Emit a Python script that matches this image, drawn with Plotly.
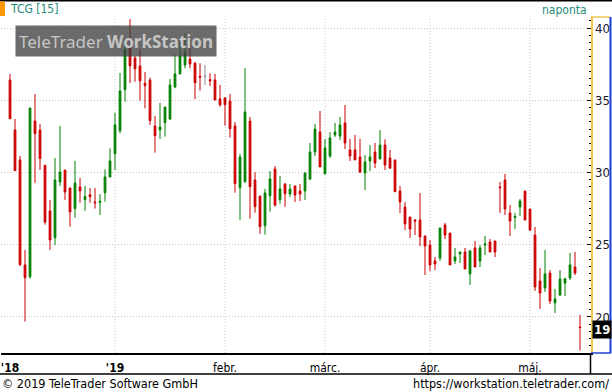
import plotly.graph_objects as go

# ---------------- data ----------------
open_ = [36.40, 32.94, 30.87, 23.60, 22.79, 33.56, 32.94, 30.50, 27.34, 25.49,
         29.34, 30.17, 28.93, 27.50, 29.00, 28.12, 28.46, 27.96, 27.93, 28.60,
         29.69, 31.30, 32.89, 35.73, 38.82, 37.92, 37.37, 36.17, 36.40, 33.22,
         32.94, 33.45, 33.70, 35.92, 36.82, 37.44, 37.85, 37.56, 36.66, 36.68,
         36.42, 36.40, 35.09, 35.16, 34.95, 33.22, 28.95, 29.36, 33.56, 29.48,
         28.37, 26.32, 28.39, 30.24, 28.12, 29.20, 28.51, 29.07, 28.72, 28.72,
         29.55, 31.42, 32.80, 29.90, 31.14, 32.60, 32.53, 33.43, 31.56, 31.56,
         31.07, 29.97, 30.80, 31.42, 30.93, 31.90, 31.00, 30.87, 28.72, 27.61,
         26.92, 26.71, 26.71, 25.61, 24.98, 23.88, 24.08, 26.37, 25.81, 23.88,
         24.36, 24.50, 22.98, 24.78, 23.88, 24.98, 25.19, 25.26, 29.00, 29.48,
         27.20, 26.88, 27.61, 28.72, 27.47, 25.67, 22.49, 22.01, 23.04, 20.97,
         21.52, 22.35, 22.70, 23.46, 19.31]
high_ = [36.82, 33.70, 31.14, 24.64, 34.46, 35.43, 33.36, 30.50, 28.10, 31.00,
         33.22, 30.17, 28.93, 30.80, 29.62, 29.07, 28.93, 28.93, 28.51, 30.22,
         31.67, 34.12, 36.89, 39.24, 40.62, 38.06, 38.55, 36.96, 36.56, 33.91,
         34.81, 34.53, 36.47, 38.13, 39.05, 39.63, 39.17, 37.65, 37.56, 37.44,
         36.87, 36.82, 36.06, 35.20, 35.43, 33.49, 31.28, 37.23, 33.84, 30.03,
         28.37, 28.86, 30.10, 30.45, 29.76, 29.27, 29.20, 29.07, 29.20, 29.97,
         32.04, 33.36, 34.26, 32.32, 32.80, 33.43, 33.84, 34.67, 32.32, 32.60,
         32.32, 31.21, 31.90, 32.04, 32.94, 32.30, 31.56, 30.87, 29.07, 27.96,
         26.92, 26.78, 28.58, 25.61, 25.33, 24.15, 26.16, 26.51, 25.81, 24.78,
         24.50, 24.78, 24.64, 25.26, 24.98, 25.61, 25.40, 25.26, 29.35, 29.90,
         27.75, 27.20, 28.17, 28.72, 27.47, 26.23, 23.39, 24.64, 23.25, 21.94,
         23.25, 22.71, 24.43, 24.50, 20.15]
low_ = [33.72, 30.13, 23.53, 19.68, 22.65, 29.29, 30.17, 26.39, 24.64, 24.98,
        29.07, 28.10, 26.25, 26.87, 27.91, 27.36, 27.91, 27.50, 27.06, 27.98,
        29.69, 30.17, 32.71, 34.90, 36.19, 36.28, 34.97, 34.44, 33.29, 31.37,
        32.32, 32.48, 33.63, 35.83, 36.82, 37.21, 37.21, 35.07, 35.66, 36.06,
        35.99, 35.02, 34.55, 33.24, 32.41, 28.60, 26.73, 29.29, 26.80, 27.22,
        25.76, 25.70, 27.29, 27.63, 27.84, 27.63, 28.30, 27.96, 28.03, 28.10,
        29.48, 31.14, 30.38, 29.90, 31.00, 32.46, 32.25, 31.63, 30.80, 30.87,
        29.97, 28.79, 30.10, 30.31, 30.93, 30.17, 30.24, 28.67, 27.20, 26.02,
        25.47, 25.67, 24.91, 22.91, 23.18, 23.25, 23.88, 25.40, 23.60, 23.67,
        23.74, 23.32, 22.21, 23.46, 23.46, 24.29, 24.50, 24.15, 27.20, 27.06,
        25.61, 26.09, 26.99, 26.71, 25.95, 21.80, 20.55, 21.73, 20.90, 20.28,
        21.45, 21.45, 22.57, 22.91, 17.67]
close_ = [33.72, 30.13, 23.62, 22.72, 34.46, 32.69, 30.96, 26.57, 25.33, 29.48,
          30.03, 28.65, 27.27, 29.27, 28.72, 28.33, 28.33, 27.90, 28.00, 29.69,
          30.80, 33.29, 35.64, 38.48, 37.39, 37.18, 36.35, 36.01, 33.59, 32.55,
          33.15, 34.53, 36.06, 36.82, 38.06, 38.27, 37.51, 36.21, 36.60, 36.68,
          36.35, 35.02, 34.69, 34.69, 33.03, 29.23, 31.07, 34.19, 29.02, 27.63,
          26.25, 28.58, 29.55, 27.75, 28.86, 28.53, 28.86, 28.44, 28.51, 29.97,
          31.42, 33.01, 30.38, 31.70, 32.39, 32.80, 33.29, 32.04, 31.14, 30.87,
          30.03, 30.73, 31.07, 30.66, 31.90, 30.52, 30.31, 28.67, 27.96, 26.44,
          26.09, 26.64, 25.54, 24.91, 23.60, 23.67, 26.16, 25.67, 23.60, 24.15,
          24.50, 23.32, 24.57, 23.46, 24.78, 25.05, 24.50, 24.50, 28.95, 27.47,
          26.64, 26.95, 28.03, 26.71, 26.02, 22.08, 21.66, 22.98, 21.11, 21.25,
          22.63, 22.64, 23.60, 23.04, 19.27]

# trading-day index of each candle
day_idx = list(range(len(close_)))

# x tick labels (trading-day index where each period starts)
tick_idx = [0, 21, 43, 63, 84, 104]
tick_text = ["<b>'18</b>", "<b>'19</b>", "febr.", "márc.", "ápr.", "máj."]
month_grid_idx = tick_idx[1:]

# y axis
y_range = [17.508, 40.761]
y_label_step = 5
y_minor_step = 0.5
y_dash_grid = [17.5, 22.5, 27.5, 32.5, 37.5]

RED = "#cc0000"
GREEN = "#008000"
GRAY = "#8c8c8c"
TEAL = "#1d8a7c"
FONT = "DejaVu Sans Condensed, Liberation Sans, Arial, sans-serif"

W, H = 612, 392
L, R, T, B = 1, 591, 17, 353


def px_x(px):
    return (px - L) / (R - L)


def px_y(py):
    return (B - py) / (B - T)


flat = [i for i in day_idx if open_[i] == close_[i]]
moving = [i for i in day_idx if open_[i] != close_[i]]

fig = go.Figure()
fig.add_trace(go.Candlestick(
    x=[day_idx[i] for i in moving],
    open=[open_[i] for i in moving], high=[high_[i] for i in moving],
    low=[low_[i] for i in moving], close=[close_[i] for i in moving],
    increasing=dict(line=dict(color=GREEN, width=1), fillcolor=GREEN),
    decreasing=dict(line=dict(color=RED, width=1), fillcolor=RED),
    whiskerwidth=0, showlegend=False, hoverinfo="skip",
))
fig.add_trace(go.Candlestick(
    x=[day_idx[i] for i in flat],
    open=[open_[i] for i in flat], high=[high_[i] for i in flat],
    low=[low_[i] for i in flat], close=[close_[i] for i in flat],
    increasing=dict(line=dict(color=GRAY, width=1), fillcolor=GRAY),
    decreasing=dict(line=dict(color=GRAY, width=1), fillcolor=GRAY),
    whiskerwidth=0, showlegend=False, hoverinfo="skip",
))

shapes = []
# vertical month gridlines
for m in month_grid_idx:
    shapes.append(dict(type="line", xref="x", yref="paper", x0=m, x1=m, y0=0, y1=1,
                       line=dict(color="#c8c8c8", width=1, dash="1px,2px"), layer="below"))
# frame lines
shapes += [
    dict(type="line", xref="paper", yref="paper", x0=px_x(0), x1=px_x(612), y0=px_y(0.75), y1=px_y(0.75),
         line=dict(color="black", width=1.5)),
    dict(type="line", xref="paper", yref="paper", x0=px_x(0), x1=px_x(612), y0=px_y(374), y1=px_y(374),
         line=dict(color="black", width=1.5)),
    dict(type="line", xref="paper", yref="paper", x0=px_x(590.5), x1=px_x(590.5), y0=px_y(353), y1=px_y(374),
         line=dict(color="black", width=1.5)),
    # right scale panel
    dict(type="line", xref="paper", yref="paper", x0=px_x(591), x1=px_x(610), y0=px_y(17), y1=px_y(17),
         line=dict(color="#f0c850", width=1.5)),
    dict(type="line", xref="paper", yref="paper", x0=px_x(610.5), x1=px_x(610.5), y0=px_y(17), y1=px_y(353),
         line=dict(color="#1f3fd0", width=2)),
    dict(type="line", xref="paper", yref="paper", x0=px_x(591), x1=px_x(611), y0=px_y(353), y1=px_y(353),
         line=dict(color="#1f3fd0", width=1.5)),
    # orange marker
    dict(type="rect", xref="paper", yref="paper", x0=px_x(0), x1=px_x(5), y0=px_y(16), y1=px_y(1.5),
         fillcolor="#ff9900", line=dict(width=0)),
]

annotations = [
    dict(text="TCG [15]", xref="paper", yref="paper", x=px_x(8), y=px_y(9.5), xanchor="left",
         yanchor="middle", showarrow=False, font=dict(family=FONT, size=12, color=TEAL)),
    dict(text="naponta", xref="paper", yref="paper", x=px_x(589), y=px_y(10), xanchor="right",
         yanchor="middle", showarrow=False, font=dict(family=FONT, size=12, color=TEAL)),
    dict(text="TeleTrader <b>WorkStation</b>", xref="paper", yref="paper", x=px_x(15), y=px_y(25),
         xanchor="left", yanchor="top", showarrow=False, bgcolor="rgba(60,60,60,0.76)",
         width=200, height=30, align="center", valign="middle", borderpad=0,
         font=dict(family="Noto Sans, Open Sans, sans-serif", size=17, color="#c6c6c6")),
    dict(text="© 2019 TeleTrader Software GmbH", xref="paper", yref="paper", x=px_x(0), y=px_y(383.5),
         xanchor="left", yanchor="middle", showarrow=False, font=dict(family=FONT, size=12.5, color="black")),
    dict(text="https://workstation.teletrader.com/", xref="paper", yref="paper", x=px_x(611), y=px_y(383.5),
         xanchor="right", yanchor="middle", showarrow=False, font=dict(family=FONT, size=12.5, color="black")),
    dict(text="<b>19</b>", xref="paper", yref="y", x=px_x(592), y=close_[-1], xanchor="left", yanchor="middle",
         yshift=-2, showarrow=False, bgcolor="black", borderpad=1,
         font=dict(family=FONT, size=13, color="white")),
]

fig.update_layout(
    width=W, height=H,
    margin=dict(l=L, r=W - R, t=T, b=H - B, pad=0, autoexpand=False),
    paper_bgcolor="white", plot_bgcolor="white",
    boxgap=0.5,
    showlegend=False,
    xaxis=dict(range=[-1.8, 116.2], rangeslider=dict(visible=False), showgrid=False, zeroline=False,
               automargin=False,
               showline=True, linecolor="black", linewidth=2, ticks="", ticklabelstandoff=3,
               tickmode="array", tickvals=tick_idx, ticktext=tick_text,
               tickfont=dict(family=FONT, size=12, color="black")),
    yaxis=dict(range=y_range, side="right", showgrid=True, gridcolor="#c8c8c8", griddash="1px,2px",
               automargin=False,
               gridwidth=1, zeroline=False, dtick=y_label_step, tick0=0, ticks="inside", ticklen=4,
               tickcolor="black", showline=True, linecolor="#f0c850", linewidth=1.5,
               tickfont=dict(family=FONT, size=13, color="#1a1a2a"),
               minor=dict(dtick=y_minor_step, ticks="inside", ticklen=2.5, tickcolor="black", showgrid=False)),
    yaxis2=dict(range=y_range, overlaying="y", side="left", showgrid=False, zeroline=False,
                automargin=False,
                showticklabels=False, dtick=y_minor_step, tick0=0, ticks="inside", ticklen=3,
                tickcolor="black", showline=True, linecolor="black", linewidth=2),
    yaxis3=dict(range=y_range, overlaying="y", side="left", showgrid=True, zeroline=False,
                automargin=False,
                showticklabels=False, ticks="", tickmode="array", tickvals=y_dash_grid,
                gridcolor="#d6d6d6", gridwidth=1.5, griddash="4px,11px", showline=False),
    shapes=shapes,
    annotations=annotations,
)

fig.write_html(
    "out.html",
    config={"displayModeBar": False, "staticPlot": True},
    post_script="document.body.style.margin='0';document.body.style.padding='0';"
                "document.documentElement.style.overflow='hidden';",
)
